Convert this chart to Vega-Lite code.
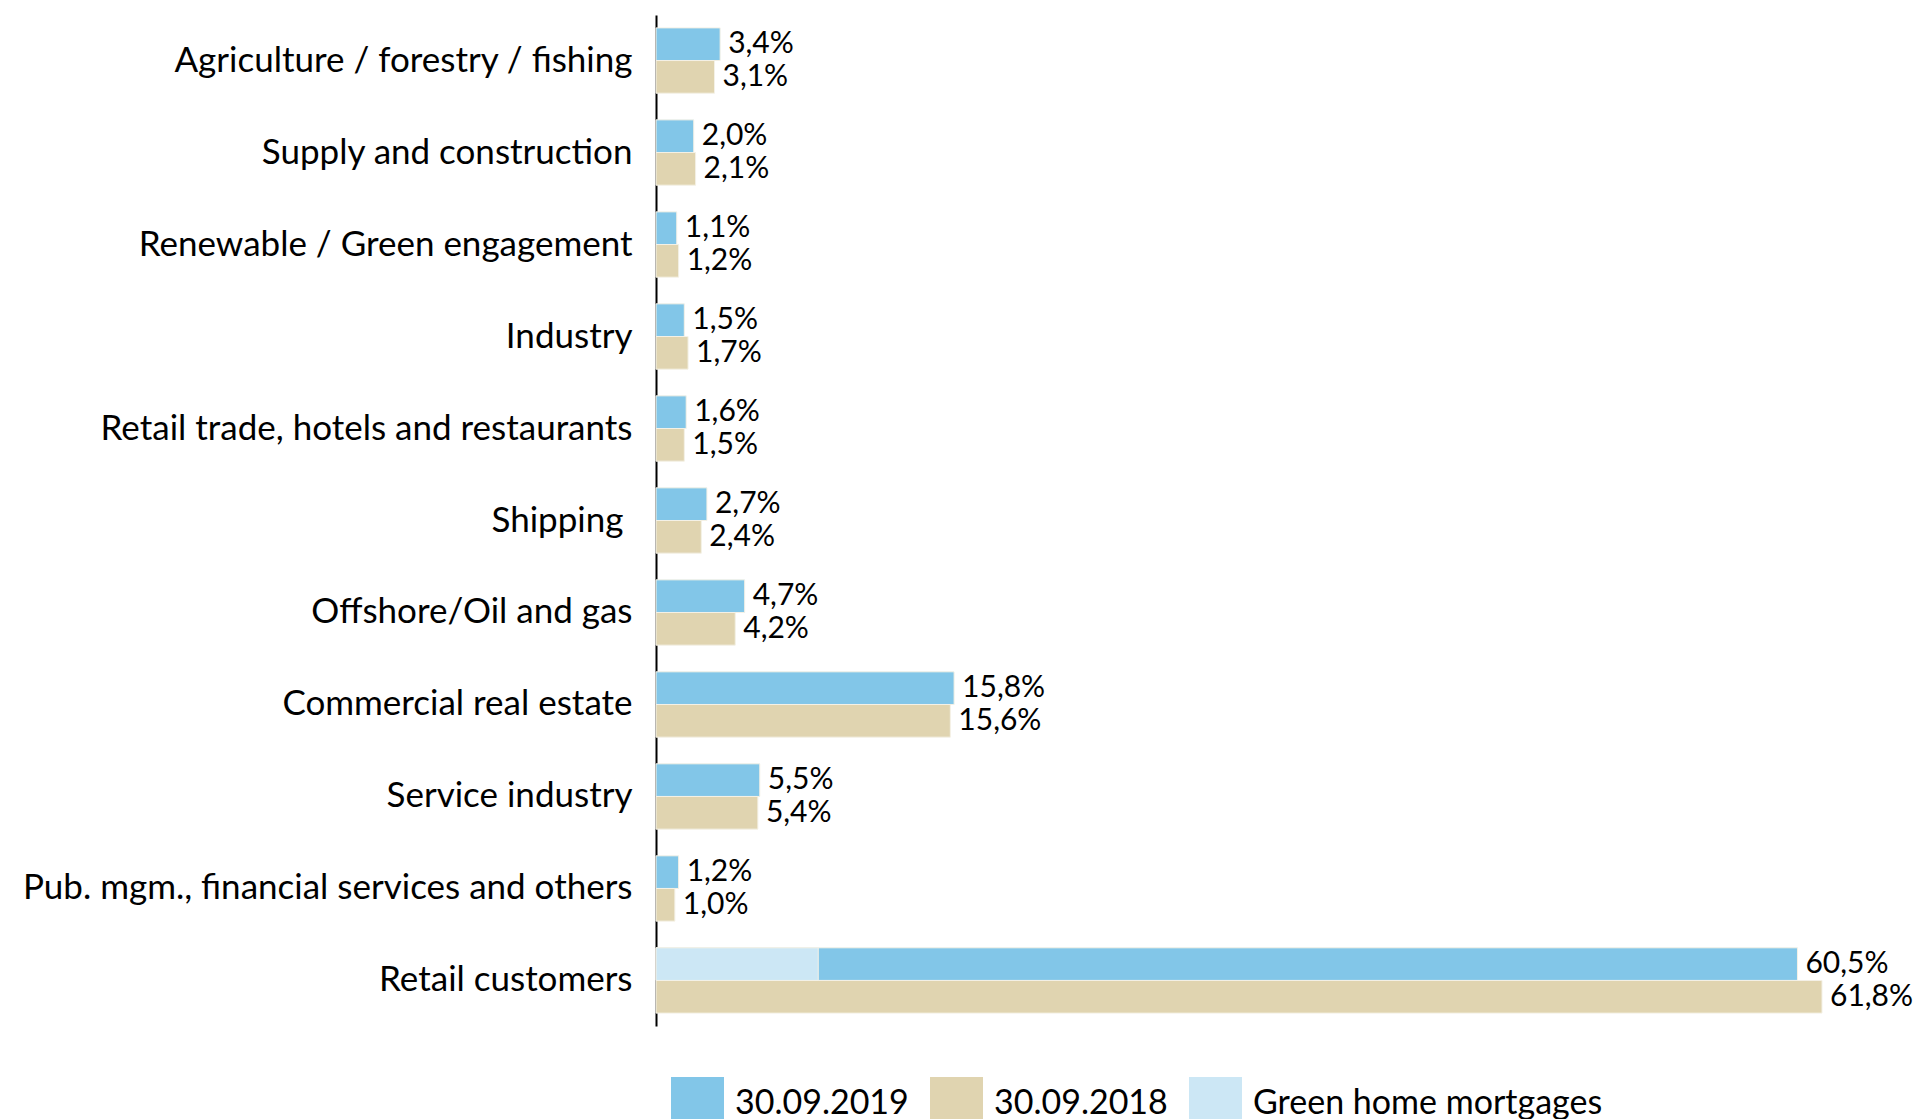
{
  "$schema": "https://vega.github.io/schema/vega-lite/v6.json",
  "autosize": "none",
  "padding": {"left": 656, "top": 15, "right": 94, "bottom": 93},
  "width": 1166,
  "height": 1011,
  "background": "white",
  "config": {
    "view": {"stroke": null},
    "font": "Lato",
    "locale": {"number": {"decimal": ",", "thousands": ".", "grouping": [3], "currency": ["", " €"]}}
  },
  "data": {
    "values": [
      {"cat": "Agriculture / forestry / fishing", "series": "30.09.2019", "grp": "30.09.2019", "v": 0.034},
      {"cat": "Agriculture / forestry / fishing", "series": "30.09.2018", "grp": "30.09.2018", "v": 0.031},
      {"cat": "Supply and construction", "series": "30.09.2019", "grp": "30.09.2019", "v": 0.020},
      {"cat": "Supply and construction", "series": "30.09.2018", "grp": "30.09.2018", "v": 0.021},
      {"cat": "Renewable / Green engagement", "series": "30.09.2019", "grp": "30.09.2019", "v": 0.011},
      {"cat": "Renewable / Green engagement", "series": "30.09.2018", "grp": "30.09.2018", "v": 0.012},
      {"cat": "Industry", "series": "30.09.2019", "grp": "30.09.2019", "v": 0.015},
      {"cat": "Industry", "series": "30.09.2018", "grp": "30.09.2018", "v": 0.017},
      {"cat": "Retail trade, hotels and restaurants", "series": "30.09.2019", "grp": "30.09.2019", "v": 0.016},
      {"cat": "Retail trade, hotels and restaurants", "series": "30.09.2018", "grp": "30.09.2018", "v": 0.015},
      {"cat": "Shipping", "series": "30.09.2019", "grp": "30.09.2019", "v": 0.027},
      {"cat": "Shipping", "series": "30.09.2018", "grp": "30.09.2018", "v": 0.024},
      {"cat": "Offshore/Oil and gas", "series": "30.09.2019", "grp": "30.09.2019", "v": 0.047},
      {"cat": "Offshore/Oil and gas", "series": "30.09.2018", "grp": "30.09.2018", "v": 0.042},
      {"cat": "Commercial real estate", "series": "30.09.2019", "grp": "30.09.2019", "v": 0.158},
      {"cat": "Commercial real estate", "series": "30.09.2018", "grp": "30.09.2018", "v": 0.156},
      {"cat": "Service industry", "series": "30.09.2019", "grp": "30.09.2019", "v": 0.055},
      {"cat": "Service industry", "series": "30.09.2018", "grp": "30.09.2018", "v": 0.054},
      {"cat": "Pub. mgm., financial services and others", "series": "30.09.2019", "grp": "30.09.2019", "v": 0.012},
      {"cat": "Pub. mgm., financial services and others", "series": "30.09.2018", "grp": "30.09.2018", "v": 0.010},
      {"cat": "Retail customers", "series": "30.09.2019", "grp": "30.09.2019", "v": 0.605},
      {"cat": "Retail customers", "series": "30.09.2018", "grp": "30.09.2018", "v": 0.618},
      {"cat": "Retail customers", "series": "Green home mortgages", "grp": "30.09.2019", "v": 0.086}
    ]
  },
  "encoding": {
    "y": {
      "field": "cat", "type": "nominal", "sort": null,
      "scale": {"paddingInner": 0.29, "paddingOuter": 0.14},
      "axis": {
        "title": null, "ticks": false, "grid": false,
        "domainColor": "#000000", "domainWidth": 2,
        "labelFontSize": 35, "labelColor": "#000000", "labelLimit": 0,
        "labelPadding": {"condition": {"test": "datum.value === 'Shipping'", "value": 33}, "value": 24}
      }
    },
    "yOffset": {
      "field": "grp", "type": "nominal",
      "scale": {"domain": ["30.09.2019", "30.09.2018"], "paddingInner": 0, "paddingOuter": 0}
    },
    "x": {
      "field": "v", "type": "quantitative", "stack": null,
      "scale": {"domain": [0, 0.618], "nice": false, "zero": true},
      "axis": null
    }
  },
  "layer": [
    {
      "mark": {"type": "bar", "stroke": "#f4f1e6", "strokeWidth": 1},
      "encoding": {
        "color": {
          "field": "series", "type": "nominal",
          "scale": {
            "domain": ["30.09.2019", "30.09.2018", "Green home mortgages"],
            "range": ["#82c6e8", "#e0d4b0", "#cce7f5"]
          },
          "legend": {
            "title": null, "orient": "none", "direction": "horizontal",
            "legendX": 15, "legendY": 1062,
            "symbolType": "square", "symbolSize": 2809, "symbolStrokeWidth": 0,
            "labelFontSize": 34, "labelOffset": 11, "columnPadding": 21,
            "labelLimit": 0,
            "encode": {
              "labels": {"update": {
                "fill": {"signal": "datum.label === 'Green home mortgages' ? '#444444' : '#000000'"}
              }},
              "symbols": {"update": {"strokeWidth": {"value": 0}}}
            }
          }
        }
      }
    },
    {
      "transform": [{"filter": "datum.series !== 'Green home mortgages'"}],
      "mark": {"type": "text", "align": "left", "baseline": "middle", "dx": 8, "fontSize": 30, "color": "#000000"},
      "encoding": {
        "text": {"field": "v", "type": "quantitative", "format": ".1%"}
      }
    }
  ]
}
